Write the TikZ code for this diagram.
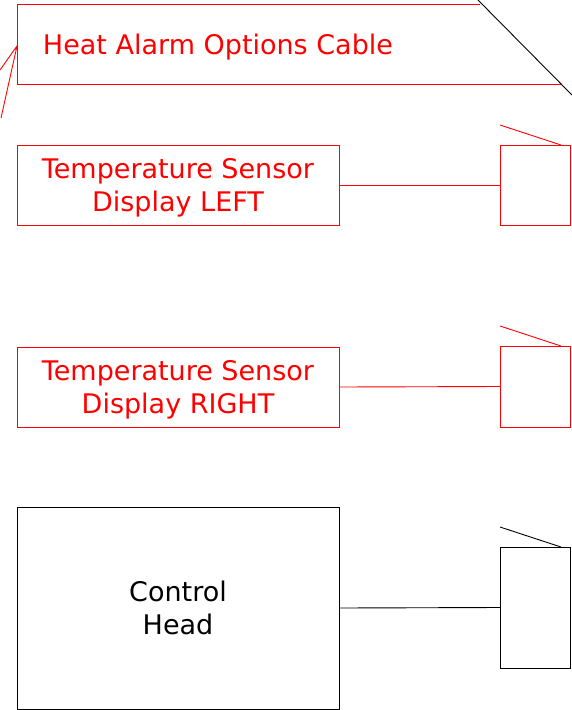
\documentclass[tikz,border=0pt]{standalone}
\usepackage{fontspec}
\setmainfont{DejaVu Sans}
\begin{document}
\begin{tikzpicture}[x=1pt,y=-1pt,
  lbl/.style={font=\fontsize{27}{33}\selectfont, align=center, inner sep=0pt},
  bigbox/.style={draw, line width=0.9pt, minimum width=322pt, inner sep=0pt, outer sep=0pt},
  smallbox/.style={draw, line width=0.9pt, minimum width=70pt, inner sep=0pt, outer sep=0pt},
  wire/.style={line width=0.9pt}]
\useasboundingbox (0,0) rectangle (571,710);
% Heat Alarm Options Cable
\node[lbl, red] (heat) at (218,47) {Heat Alarm Options Cable};
\coordinate (hl) at (17,46);
\coordinate (ha) at (0,70);
\coordinate (hb) at (1,118);
\draw[wire, red] (480,4) -- (17,4) -- (17,84) -- (562,84);
\draw[wire, red] (ha) -- (hl) -- (hb);
\coordinate (d1) at (477,-1);
\coordinate (d2) at (572,95);
\draw[wire, black] (d1) -- (d2);
% Temperature Sensor LEFT
\node[bigbox, red, minimum height=80pt] (tsl) at (178,185) {};
\node[lbl, red] at ([yshift=-3pt]tsl.center) {Temperature Sensor\\Display LEFT};
\node[smallbox, red, minimum height=80pt] (sl) at (535,185) {};
\draw[wire, red] (tsl.east) -- (sl.west);
\coordinate (sla) at (500,125);
\coordinate (slb) at (561,145);
\draw[wire, red] (sla) -- (slb);
% Temperature Sensor RIGHT
\node[bigbox, red, minimum height=80pt] (tsr) at (178,387) {};
\node[lbl, red] at ([yshift=-3pt]tsr.center) {Temperature Sensor\\Display RIGHT};
\node[smallbox, red, minimum height=81pt] (sr) at (535,386.5) {};
\draw[wire, red] (tsr.east) -- (sr.west);
\coordinate (sra) at (500,326);
\coordinate (srb) at (561,346);
\draw[wire, red] (sra) -- (srb);
% Control Head
\node[bigbox, black, minimum height=202pt] (ch) at (178,608) {};
\node[lbl, black] at (ch.center) {Control\\Head};
\node[smallbox, black, minimum height=121pt] (sc) at (535,607.5) {};
\draw[wire, black] (ch.east) -- (sc.west);
\coordinate (sca) at (500,527);
\coordinate (scb) at (561,547);
\draw[wire, black] (sca) -- (scb);
\end{tikzpicture}
\end{document}
